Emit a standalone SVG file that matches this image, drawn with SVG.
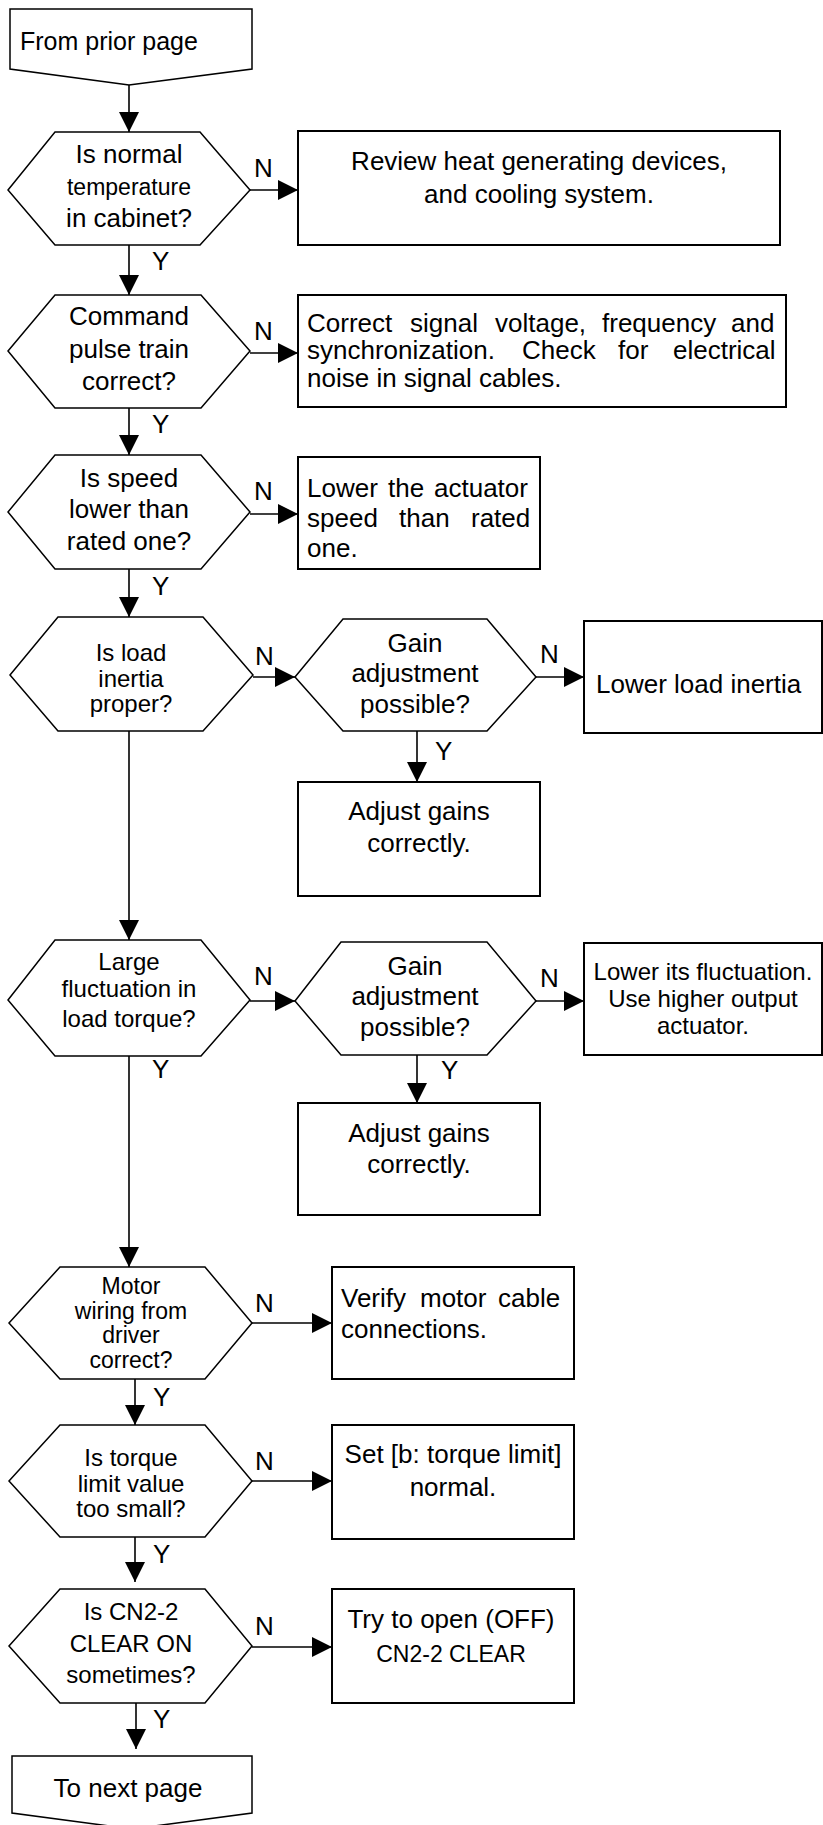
<svg xmlns="http://www.w3.org/2000/svg" width="823" height="1825" viewBox="0 0 823 1825">
<style>
.shape{fill:#fff;stroke:#000;stroke-width:1.5}
.box{fill:#fff;stroke:#000;stroke-width:2}
.t{font-family:"Liberation Sans",Arial,sans-serif;font-size:26px;fill:#000}
.c{text-anchor:middle}
.s24{font-size:24px}
.s23{font-size:23px}
.ln{stroke:#000;stroke-width:1.6;fill:none;marker-end:url(#ah)}
.lbl{font-family:"Liberation Sans",Arial,sans-serif;font-size:26px;fill:#000}
</style>
<defs>
<marker id="ah" markerUnits="userSpaceOnUse" markerWidth="20" markerHeight="20" refX="20" refY="10" orient="auto">
<path d="M0,0 L20,10 L0,20 z" fill="#000"/>
</marker>
</defs>
<rect width="823" height="1825" fill="#fff"/>

<g id="connectors">
<line class="ln" x1="129" y1="85" x2="129" y2="132"/>
<line class="ln" x1="250" y1="190" x2="298" y2="190"/>
<line class="ln" x1="129" y1="245" x2="129" y2="295"/>
<line class="ln" x1="250" y1="353" x2="298" y2="353"/>
<line class="ln" x1="129" y1="408" x2="129" y2="455"/>
<line class="ln" x1="250" y1="514" x2="298" y2="514"/>
<line class="ln" x1="129" y1="569" x2="129" y2="617"/>
<line class="ln" x1="253" y1="677" x2="295" y2="677"/>
<line class="ln" x1="536" y1="677" x2="584" y2="677"/>
<line class="ln" x1="417" y1="731" x2="417" y2="782"/>
<line class="ln" x1="129" y1="731" x2="129" y2="940"/>
<line class="ln" x1="250" y1="1001" x2="295" y2="1001"/>
<line class="ln" x1="536" y1="1001" x2="584" y2="1001"/>
<line class="ln" x1="417" y1="1055" x2="417" y2="1103"/>
<line class="ln" x1="129" y1="1056" x2="129" y2="1267"/>
<line class="ln" x1="252" y1="1323" x2="332" y2="1323"/>
<line class="ln" x1="135" y1="1379" x2="135" y2="1425"/>
<line class="ln" x1="252" y1="1481" x2="332" y2="1481"/>
<line class="ln" x1="135" y1="1537" x2="135" y2="1582"/>
<line class="ln" x1="252" y1="1647" x2="332" y2="1647"/>
<line class="ln" x1="136" y1="1703" x2="136" y2="1749"/>
<text class="lbl" x="254" y="177">N</text>
<text class="lbl" x="254" y="340">N</text>
<text class="lbl" x="254" y="500">N</text>
<text class="lbl" x="255" y="665">N</text>
<text class="lbl" x="540" y="663">N</text>
<text class="lbl" x="254" y="985">N</text>
<text class="lbl" x="540" y="987">N</text>
<text class="lbl" x="255" y="1312">N</text>
<text class="lbl" x="255" y="1470">N</text>
<text class="lbl" x="255" y="1635">N</text>
<text class="lbl" x="152" y="270">Y</text>
<text class="lbl" x="152" y="433">Y</text>
<text class="lbl" x="152" y="595">Y</text>
<text class="lbl" x="435" y="760">Y</text>
<text class="lbl" x="152" y="1078">Y</text>
<text class="lbl" x="441" y="1079">Y</text>
<text class="lbl" x="153" y="1406">Y</text>
<text class="lbl" x="153" y="1563">Y</text>
<text class="lbl" x="153" y="1728">Y</text>
</g>

<g id="start">
<polygon class="shape" points="10,9 252,9 252,69 129,85 10,69"/>
<text class="t" x="20" y="50" style="font-size:25px">From prior page</text>
</g>

<g id="q-temperature">
<polygon class="shape" points="8,190 55,132 200,132 250,190 200,245 55,245"/>
<text class="t c" x="129" y="163">Is normal</text>
<text class="t c s23" x="129" y="195">temperature</text>
<text class="t c" x="129" y="227">in cabinet?</text>
</g>
<g id="a-review">
<rect class="box" x="298" y="131" width="482" height="114"/>
<text class="t c" x="539" y="170">Review heat generating devices,</text>
<text class="t c" x="539" y="203">and cooling system.</text>
</g>

<g id="q-pulse">
<polygon class="shape" points="8,351 55,295 201,295 250,351 201,408 55,408"/>
<text class="t c" x="129" y="325">Command</text>
<text class="t c" x="129" y="358">pulse train</text>
<text class="t c" x="129" y="390">correct?</text>
</g>
<g id="a-signal">
<rect class="box" x="298" y="295" width="488" height="112"/>
<text class="t" y="331.5"><tspan x="307">Correct</tspan><tspan x="410">signal</tspan><tspan x="495">voltage,</tspan><tspan x="602">frequency</tspan><tspan x="731">and</tspan></text>
<text class="t" y="359"><tspan x="307">synchronization.</tspan><tspan x="522">Check</tspan><tspan x="618">for</tspan><tspan x="673">electrical</tspan></text>
<text class="t" x="307" y="386.5">noise in signal cables.</text>
</g>

<g id="q-speed">
<polygon class="shape" points="8,512 55,455 201,455 250,512 201,569 55,569"/>
<text class="t c" x="129" y="487">Is speed</text>
<text class="t c" x="129" y="518">lower than</text>
<text class="t c" x="129" y="550">rated one?</text>
</g>
<g id="a-speed">
<rect class="box" x="298" y="457" width="242" height="112"/>
<text class="t" y="497"><tspan x="307">Lower</tspan><tspan x="388">the</tspan><tspan x="434">actuator</tspan></text>
<text class="t" y="527"><tspan x="307">speed</tspan><tspan x="399">than</tspan><tspan x="471">rated</tspan></text>
<text class="t" x="307" y="557">one.</text>
</g>

<g id="q-inertia">
<polygon class="shape" points="10,675 58,617 203,617 253,675 203,731 58,731"/>
<text class="t c s24" x="131" y="661">Is load</text>
<text class="t c s24" x="131" y="686.5">inertia</text>
<text class="t c s24" x="131" y="712">proper?</text>
</g>
<g id="q-gain1">
<polygon class="shape" points="295,677 343,619 487,619 536,677 487,731 343,731"/>
<text class="t c" x="415" y="652">Gain</text>
<text class="t c" x="415" y="682">adjustment</text>
<text class="t c" x="415" y="713">possible?</text>
</g>
<g id="a-inertia">
<rect class="box" x="584" y="621" width="238" height="112"/>
<text class="t" x="596" y="693">Lower load inertia</text>
</g>
<g id="a-gain1">
<rect class="box" x="298" y="782" width="242" height="114"/>
<text class="t c" x="419" y="820">Adjust gains</text>
<text class="t c" x="419" y="852">correctly.</text>
</g>

<g id="q-torque">
<polygon class="shape" points="8,1000 55,940 201,940 250,1000 201,1056 55,1056"/>
<text class="t c s24" x="129" y="970">Large</text>
<text class="t c s24" x="129" y="997">fluctuation in</text>
<text class="t c s24" x="129" y="1027">load torque?</text>
</g>
<g id="q-gain2">
<polygon class="shape" points="295,1001 341,942 487,942 536,1001 487,1055 341,1055"/>
<text class="t c" x="415" y="975">Gain</text>
<text class="t c" x="415" y="1005">adjustment</text>
<text class="t c" x="415" y="1036">possible?</text>
</g>
<g id="a-fluct">
<rect class="box" x="584" y="943" width="238" height="112"/>
<text class="t c s24" x="703" y="980">Lower its fluctuation.</text>
<text class="t c s24" x="703" y="1007">Use higher output</text>
<text class="t c s24" x="703" y="1034">actuator.</text>
</g>
<g id="a-gain2">
<rect class="box" x="298" y="1103" width="242" height="112"/>
<text class="t c" x="419" y="1142">Adjust gains</text>
<text class="t c" x="419" y="1173">correctly.</text>
</g>

<g id="q-wiring">
<polygon class="shape" points="9,1323 60,1267 205,1267 252,1323 205,1379 60,1379"/>
<text class="t c s23" x="131" y="1294">Motor</text>
<text class="t c s23" x="131" y="1318.5">wiring from</text>
<text class="t c s23" x="131" y="1343">driver</text>
<text class="t c s23" x="131" y="1367.5">correct?</text>
</g>
<g id="a-wiring">
<rect class="box" x="332" y="1267" width="242" height="112"/>
<text class="t" y="1307"><tspan x="341">Verify</tspan><tspan x="420">motor</tspan><tspan x="498">cable</tspan></text>
<text class="t" x="341" y="1338">connections.</text>
</g>

<g id="q-limit">
<polygon class="shape" points="9,1481 60,1425 205,1425 252,1481 205,1537 60,1537"/>
<text class="t c s24" x="131" y="1466">Is torque</text>
<text class="t c s24" x="131" y="1491.5">limit value</text>
<text class="t c s24" x="131" y="1517">too small?</text>
</g>
<g id="a-limit">
<rect class="box" x="332" y="1425" width="242" height="114"/>
<text class="t c" x="453" y="1463">Set [b: torque limit]</text>
<text class="t c" x="453" y="1496">normal.</text>
</g>

<g id="q-clear">
<polygon class="shape" points="9,1646 60,1589 205,1589 252,1646 205,1703 60,1703"/>
<text class="t c s24" x="131" y="1620">Is CN2-2</text>
<text class="t c s24" x="131" y="1652">CLEAR ON</text>
<text class="t c s24" x="131" y="1683">sometimes?</text>
</g>
<g id="a-clear">
<rect class="box" x="332" y="1589" width="242" height="114"/>
<text class="t c" x="451" y="1628">Try to open (OFF)</text>
<text class="t c s23" x="451" y="1662">CN2-2 CLEAR</text>
</g>

<g id="end">
<polygon class="shape" points="12,1756 252,1756 252,1813 132,1829 12,1813"/>
<text class="t c" x="128" y="1797">To next page</text>
</g>
</svg>
